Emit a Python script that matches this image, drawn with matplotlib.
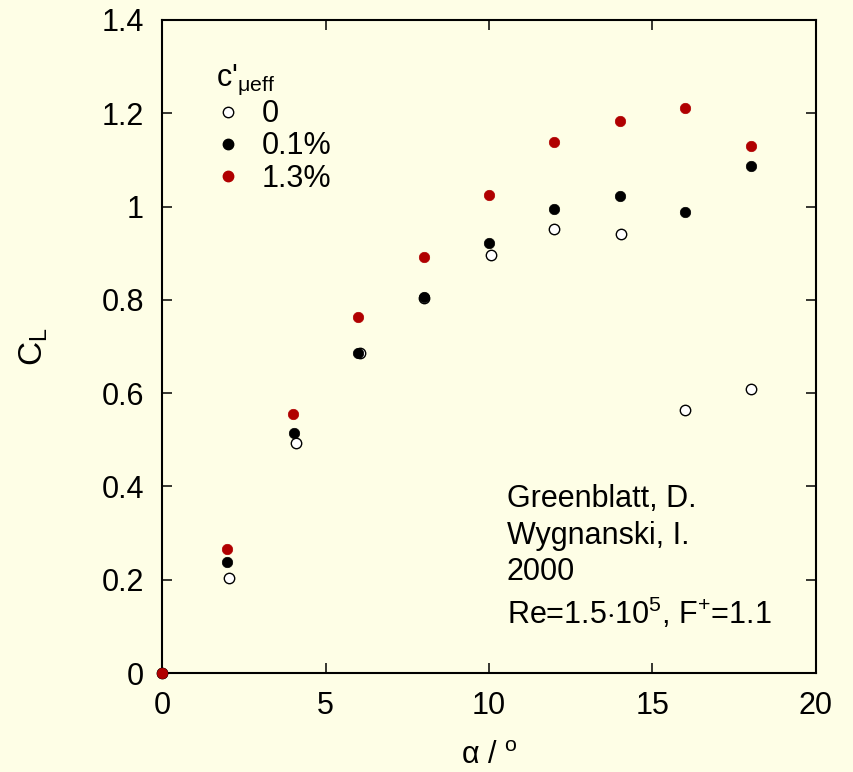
import numpy as np
import matplotlib.pyplot as plt
from matplotlib.lines import Line2D

plt.rcParams["font.family"] = ["Liberation Sans", "DejaVu Sans"]
plt.rcParams["mathtext.fontset"] = "custom"
plt.rcParams["mathtext.rm"] = "Liberation Sans"
plt.rcParams["mathtext.it"] = "Liberation Sans"

# angle of attack (deg) and lift coefficient for three blowing levels
alpha_0 = [0, 2.05, 4.1, 6.05, 8.0, 10.05, 12.0, 14.05, 16.0, 18.0]
cl_0 = [0, 0.204, 0.493, 0.686, 0.805, 0.896, 0.952, 0.941, 0.564, 0.609]

alpha_01 = [0, 2.0, 4.05, 6.0, 8.0, 10.0, 12.0, 14.0, 16.0, 18.0]
cl_01 = [0, 0.238, 0.515, 0.686, 0.806, 0.922, 0.995, 1.022, 0.988, 1.086]

alpha_13 = [0, 2.0, 4.0, 6.0, 8.0, 10.0, 12.0, 14.0, 16.0, 18.0]
cl_13 = [0, 0.266, 0.555, 0.763, 0.892, 1.025, 1.138, 1.183, 1.212, 1.129]

labels = ["0", "0.1%", "1.3%"]

bg = "#fefee6"
red = "#b00000"
fs = 22

fig = plt.figure(figsize=(8.54, 7.72), dpi=100, facecolor=bg)
ax = fig.add_axes([0.1897, 0.1282, 0.9555 - 0.1897, 0.9741 - 0.1282])
ax.set_facecolor(bg)

ms = 7.5
ax.plot(alpha_0, cl_0, "o", ms=ms, mfc="white", mec="black", mew=1.0, clip_on=False, zorder=3)
ax.plot(alpha_01, cl_01, "o", ms=ms, mfc="black", mec="black", mew=0.5, clip_on=False, zorder=4)
ax.plot(alpha_13, cl_13, "o", ms=ms, mfc=red, mec=red, mew=0.5, clip_on=False, zorder=5)

ax.set_xlim(0, 20)
ax.set_ylim(0, 1.4)
ax.set_xticks([0, 5, 10, 15, 20])
ax.set_yticks(np.arange(0, 1.41, 0.2))
ax.set_yticklabels(["0", "0.2", "0.4", "0.6", "0.8", "1", "1.2", "1.4"])
ax.tick_params(direction="in", length=7.2, width=1.1, labelsize=fs,
               top=True, right=True, pad=13)
for s in ax.spines.values():
    s.set_linewidth(1.5)

ax.set_xlabel(r"α / $^{\mathrm{o}}$", fontsize=fs, labelpad=14)
ax.set_ylabel(r"C$_{\mathrm{L}}$", fontsize=24, labelpad=37)

handles = [
    Line2D([], [], ls="", marker="o", ms=ms, mfc="white", mec="black"),
    Line2D([], [], ls="", marker="o", ms=ms, mfc="black", mec="black"),
    Line2D([], [], ls="", marker="o", ms=ms, mfc=red, mec=red),
]
leg = ax.legend(handles, labels, title=r"c$'_{\mathrm{\mu eff}}$", frameon=False,
                fontsize=fs, title_fontsize=fs, loc="upper left",
                bbox_to_anchor=(0.05, 0.967), handlelength=0.8,
                handletextpad=0.7, labelspacing=0.07, borderpad=0.2)
leg._legend_box.align = "left"

ax.text(0.5275, 0.29,
        "Greenblatt, D.\nWygnanski, I.\n2000\n"
        r"Re=1.5$\cdot$10$^5$, F$^{{+}}$=1.1",
        transform=ax.transAxes, fontsize=fs, va="top", ha="left",
        linespacing=1.3)

fig.savefig("out.png", dpi=100, facecolor=bg)
